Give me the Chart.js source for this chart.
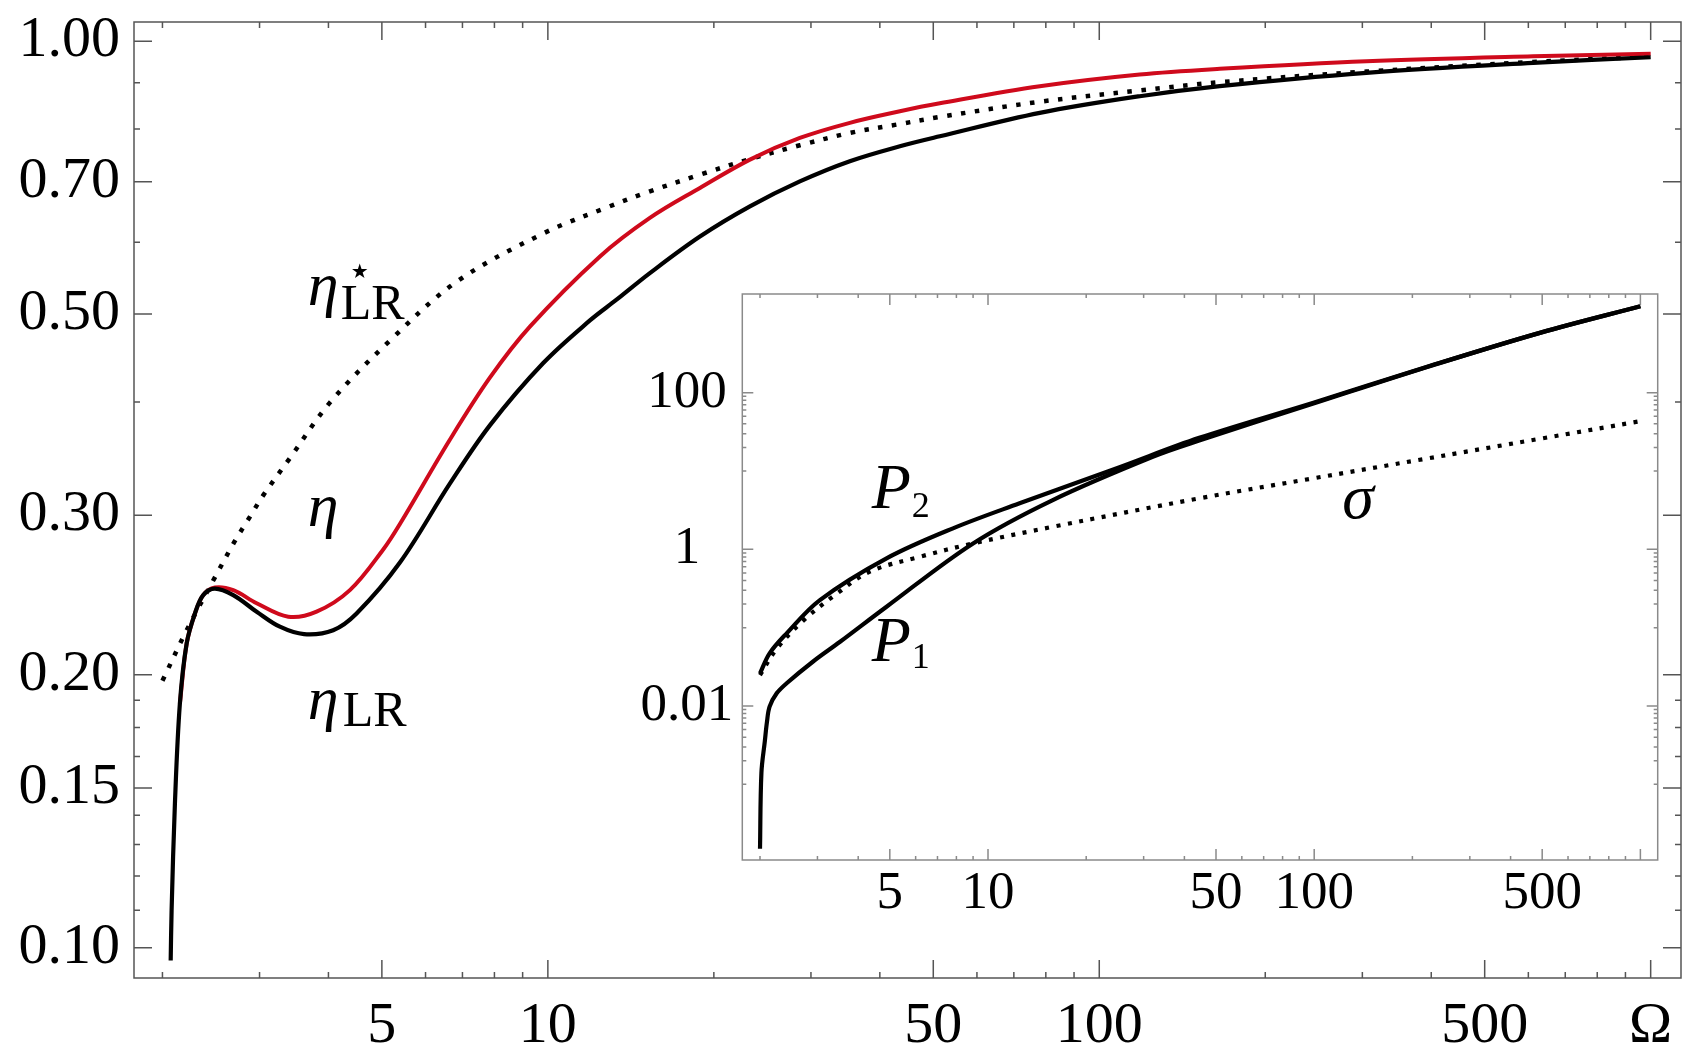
<!DOCTYPE html>
<html>
<head>
<meta charset="utf-8">
<script src="https://cdn.jsdelivr.net/npm/chart.js@4.4.1/dist/chart.umd.min.js"></script>
<style>
html,body{margin:0;padding:0;background:#fff;}
#wrap{position:relative;width:1704px;height:1064px;overflow:hidden;}
#wrap canvas{position:absolute;left:0;top:0;}
</style>
</head>
<body>
<div id="wrap">
<canvas id="mainChart" width="1704" height="1064"></canvas>
<canvas id="insetChart" width="1704" height="1064"></canvas>
</div>
<script>
// ---------------- main chart data (Ω on x, efficiency on y) ----------------
const omegaEtaLR = [2.07, 2.078, 2.107, 2.151, 2.213, 2.291, 2.371, 2.49, 2.688, 2.964, 3.266, 3.612, 4.08, 4.499, 5.391, 6.641, 7.849, 9.80, 11.92, 13.32, 15.31, 18.87, 23.25, 28.64, 35.29, 43.49, 51.38, 78.0, 118.4, 165.4, 305.1, 611.8, 1000];
const etaLR      = [0.0968, 0.110, 0.1443, 0.1859, 0.2166, 0.2338, 0.2449, 0.2490, 0.2449, 0.2348, 0.2260, 0.2218, 0.2240, 0.2337, 0.2660, 0.3250, 0.3769, 0.4413, 0.4920, 0.5186, 0.5549, 0.6089, 0.6574, 0.7004, 0.7373, 0.7658, 0.7854, 0.8336, 0.8696, 0.8923, 0.9228, 0.9465, 0.9601];

const omegaEta = [2.151, 2.213, 2.291, 2.371, 2.49, 2.688, 2.964, 3.382, 3.807, 4.375, 5.028, 5.391, 6.641, 7.849, 9.277, 12.43, 15.31, 18.87, 23.25, 28.64, 35.29, 43.49, 51.38, 78.0, 118.4, 165.4, 305.1, 611.8, 1000];
const eta      = [0.1859, 0.2166, 0.2338, 0.2449, 0.2497, 0.2480, 0.2399, 0.2318, 0.2348, 0.2480, 0.2750, 0.2934, 0.3634, 0.4254, 0.4843, 0.5788, 0.6383, 0.6888, 0.7403, 0.7821, 0.8128, 0.8369, 0.8540, 0.8919, 0.9189, 0.9322, 0.9504, 0.9625, 0.9685];

const omegaEtaStar = [2.0, 2.213, 2.49, 2.707, 2.883, 3.046, 3.405, 4.024, 5.169, 6.831, 9.80, 12.86, 15.31, 18.87, 23.25, 28.64, 35.29, 42.89, 51.38, 78.0, 118.4, 165.4, 305.1, 611.8, 1000];
const etaStar      = [0.1970, 0.2240, 0.2562, 0.2810, 0.2989, 0.3155, 0.3468, 0.3993, 0.4674, 0.5428, 0.6135, 0.6564, 0.6829, 0.7124, 0.7414, 0.7677, 0.7921, 0.8091, 0.8249, 0.8575, 0.8823, 0.9011, 0.9258, 0.9485, 0.9618];

// main axes ticks
const mainXTicks  = [5, 10, 50, 100, 500, 1000];
const mainXLabels = ['5', '10', '50', '100', '500', '\u03A9'];
const mainXMinor  = [2, 3, 4, 6, 7, 8, 9, 20, 30, 40, 60, 70, 80, 90, 200, 300, 400, 600, 700, 800, 900];
const mainYTicks  = [0.10, 0.15, 0.20, 0.30, 0.50, 0.70, 1.00];
const mainYLabels = ['0.10', '0.15', '0.20', '0.30', '0.50', '0.70', '1.00'];
const mainYMinor  = [0.11, 0.12, 0.13, 0.14, 0.1625, 0.175, 0.1875, 0.4, 0.6, 0.8, 0.9];

// ---------------- inset data ----------------
const omegaP1 = [2.0, 2.02, 2.07, 2.10, 2.14, 2.25, 2.414, 2.91, 3.52, 4.886, 9.0, 15.8, 32, 44.42, 98.9, 214.7, 494.8, 1000];
const p1      = [1.5e-4, 1.4e-3, 3.6e-3, 6.2e-3, 9.8e-3, 0.0145, 0.0195, 0.037, 0.066, 0.185, 1.19, 4.26, 15.2, 24.5, 72, 204, 585, 1270];

const omegaP2 = [2.0, 2.14, 2.414, 3.052, 4.886, 7.812, 12.5, 25.31, 44.42, 98.9, 214.7, 494.8, 1000];
const p2      = [0.0261, 0.047, 0.0846, 0.225, 0.767, 1.854, 3.87, 11.2, 26.5, 74, 205, 585, 1270];

const omegaSigma = [2.0, 2.249, 2.714, 3.434, 4.343, 6.18, 9.0, 15.8, 44.42, 98.9, 214.7, 494.8, 1000];
const sigma      = [0.0248, 0.0535, 0.123, 0.27, 0.52, 0.804, 1.19, 1.94, 4.48, 8.04, 14.1, 25.9, 43.3];

const insetXTicks  = [5, 10, 50, 100, 500, 1000];
const insetXLabels = ['5', '10', '50', '100', '500', ''];
const insetXMinor  = [2, 3, 4, 6, 7, 8, 9, 20, 30, 40, 60, 70, 80, 90, 200, 300, 400, 600, 700, 800, 900];
const insetYTicks  = [0.01, 1, 100];
const insetYLabels = ['0.01', '1', '100'];
const insetYMinor  = [0.001, 0.002, 0.003, 0.004, 0.005, 0.006, 0.007, 0.008, 0.009, 0.1, 0.2, 0.3, 0.4, 0.5, 0.6, 0.7, 0.8, 0.9, 10, 20, 30, 40, 50, 60, 70, 80, 90];

// ---------------- helpers ----------------
const SERIF = '"Liberation Serif", "DejaVu Serif", serif';
const pts = (xs, ys) => xs.map((x, i) => ({x: x, y: ys[i]}));
const TENSION = 0.35;

const frameTicks = {
  id: 'frameTicks',
  beforeDraw(chart, args, o) {
    const {ctx, chartArea: a} = chart;
    ctx.save();
    if (o.pageBg) { ctx.fillStyle = '#fff'; ctx.fillRect(0, 0, chart.width, chart.height); }
    if (o.areaBg) { ctx.fillStyle = '#fff'; ctx.fillRect(a.left, a.top, a.right - a.left, a.bottom - a.top); }
    ctx.restore();
  },
  afterDraw(chart, args, o) {
    const {ctx, chartArea: a, scales: {x, y}} = chart;
    ctx.save();
    ctx.strokeStyle = o.color;
    ctx.lineWidth = o.lineWidth;
    ctx.strokeRect(a.left, a.top, a.right - a.left, a.bottom - a.top);
    ctx.beginPath();
    const xt = (vals, len) => vals.forEach(v => {
      const p = x.getPixelForValue(v);
      if (p < a.left || p > a.right) return;
      ctx.moveTo(p, a.bottom); ctx.lineTo(p, a.bottom - len);
      ctx.moveTo(p, a.top); ctx.lineTo(p, a.top + len);
    });
    const yt = (vals, len) => vals.forEach(v => {
      const p = y.getPixelForValue(v);
      if (p < a.top || p > a.bottom) return;
      ctx.moveTo(a.left, p); ctx.lineTo(a.left + len, p);
      ctx.moveTo(a.right, p); ctx.lineTo(a.right - len, p);
    });
    xt(o.xMajor, o.majorLen); xt(o.xMinor, o.minorLen);
    yt(o.yMajor, o.majorLen); yt(o.yMinor, o.minorLen);
    ctx.stroke();
    ctx.restore();
  }
};

const curveLabels = {
  id: 'curveLabels',
  afterDraw(chart, args, o) {
    const {ctx, scales: {x, y}} = chart;
    ctx.save();
    ctx.fillStyle = '#000';
    ctx.textAlign = 'left';
    ctx.textBaseline = 'alphabetic';
    o.items.forEach(item => {
      const px = x.getPixelForValue(item.x), py = y.getPixelForValue(item.y);
      item.parts.forEach(p => {
        ctx.font = p.font;
        ctx.fillText(p.text, px + p.dx, py + p.dy);
      });
    });
    ctx.restore();
  }
};

const zeroPad = s => { s.paddingTop = 0; s.paddingBottom = 0; s.paddingLeft = 0; s.paddingRight = 0; };

// ---------------- main chart ----------------
new Chart(document.getElementById('mainChart'), {
  type: 'line',
  data: {
    datasets: [
      { label: '\u03B7_LR', data: pts(omegaEtaLR, etaLR), borderColor: '#000', borderWidth: 4.2,
        pointRadius: 0, tension: TENSION, fill: false },
      { label: '\u03B7', data: pts(omegaEta, eta), borderColor: '#cf0a1c', borderWidth: 4,
        pointRadius: 0, tension: TENSION, fill: false },
      { label: '\u03B7*_LR', data: pts(omegaEtaStar, etaStar), borderColor: '#000', borderWidth: 4.5,
        borderDash: [4.5, 9.5], borderCapStyle: 'butt',
        pointRadius: 0, tension: TENSION, fill: false }
    ]
  },
  options: {
    responsive: false, animation: false, devicePixelRatio: 1,
    layout: { padding: { left: 0, top: 22, right: 23, bottom: 0 } },
    plugins: {
      legend: { display: false }, tooltip: { enabled: false },
      frameTicks: { pageBg: true, color: '#555', lineWidth: 1.5, majorLen: 18, minorLen: 6,
        xMajor: mainXTicks, xMinor: mainXMinor, yMajor: mainYTicks, yMinor: mainYMinor },
      curveLabels: { items: [
        { x: 3.67, y: 0.5112, parts: [
          { text: '\u03B7', font: 'italic 62px ' + SERIF, dx: 0, dy: 0 },
          { text: '\u2605', font: '20px "DejaVu Sans", sans-serif', dx: 43, dy: -27 },
          { text: 'LR', font: '50px ' + SERIF, dx: 33, dy: 14 } ] },
        { x: 3.67, y: 0.2918, parts: [
          { text: '\u03B7', font: 'italic 62px ' + SERIF, dx: 0, dy: 0 } ] },
        { x: 3.67, y: 0.1789, parts: [
          { text: '\u03B7', font: 'italic 62px ' + SERIF, dx: 0, dy: 0 },
          { text: 'LR', font: '50px ' + SERIF, dx: 35, dy: 7 } ] }
      ] }
    },
    scales: {
      x: {
        type: 'logarithmic', position: 'bottom', min: 1.776, max: 1135,
        afterBuildTicks: s => { s.ticks = mainXTicks.map(v => ({ value: v })); },
        afterFit: s => { s.height = 86; zeroPad(s); },
        grid: { display: false, drawTicks: false }, border: { display: false },
        ticks: { autoSkip: false, maxRotation: 0, padding: 14, color: '#000',
          font: { family: SERIF, size: 58 },
          callback: (v, i) => mainXLabels[i] }
      },
      y: {
        type: 'logarithmic', position: 'left', min: 0.0926, max: 1.05,
        afterBuildTicks: s => { s.ticks = mainYTicks.map(v => ({ value: v })); },
        afterFit: s => { s.width = 134; zeroPad(s); },
        grid: { display: false, drawTicks: false }, border: { display: false },
        ticks: { autoSkip: false, padding: 14, color: '#000',
          font: { family: SERIF, size: 58 },
          callback: (v, i) => mainYLabels[i] }
      }
    }
  },
  plugins: [frameTicks, curveLabels]
});

// ---------------- inset chart ----------------
new Chart(document.getElementById('insetChart'), {
  type: 'line',
  data: {
    datasets: [
      { label: 'P2', data: pts(omegaP2, p2), borderColor: '#000', borderWidth: 4.2,
        pointRadius: 0, tension: TENSION, fill: false },
      { label: 'P1', data: pts(omegaP1, p1), borderColor: '#000', borderWidth: 4.2,
        pointRadius: 0, tension: TENSION, fill: false },
      { label: '\u03C3', data: pts(omegaSigma, sigma), borderColor: '#000', borderWidth: 4.2,
        borderDash: [4, 7.5], borderCapStyle: 'butt',
        pointRadius: 0, tension: TENSION, fill: false }
    ]
  },
  options: {
    responsive: false, animation: false, devicePixelRatio: 1,
    layout: { padding: { left: 622.3, top: 294, right: 46.3, bottom: 134 } },
    plugins: {
      legend: { display: false }, tooltip: { enabled: false },
      frameTicks: { areaBg: true, color: '#8a8a8a', lineWidth: 1.5, majorLen: 11, minorLen: 4,
        xMajor: insetXTicks, xMinor: insetXMinor, yMajor: insetYTicks, yMinor: insetYMinor },
      curveLabels: { items: [
        { x: 4.40, y: 3.37, parts: [
          { text: 'P', font: 'italic 64px ' + SERIF, dx: 0, dy: 0 },
          { text: '2', font: '36px ' + SERIF, dx: 40, dy: 9 } ] },
        { x: 4.40, y: 0.0371, parts: [
          { text: 'P', font: 'italic 64px ' + SERIF, dx: 0, dy: 0 },
          { text: '1', font: '36px ' + SERIF, dx: 40, dy: 7 } ] },
        { x: 121.9, y: 2.51, parts: [
          { text: '\u03C3', font: 'italic 64px ' + SERIF, dx: 0, dy: 0 } ] }
      ] }
    },
    scales: {
      x: {
        type: 'logarithmic', position: 'bottom', min: 1.765, max: 1130,
        afterBuildTicks: s => { s.ticks = insetXTicks.map(v => ({ value: v })); },
        afterFit: s => { s.height = 70; zeroPad(s); },
        grid: { display: false, drawTicks: false }, border: { display: false },
        ticks: { autoSkip: false, maxRotation: 0, padding: 2, color: '#000',
          font: { family: SERIF, size: 53 },
          callback: (v, i) => insetXLabels[i] }
      },
      y: {
        type: 'logarithmic', position: 'left', min: 1.08e-4, max: 1820,
        afterBuildTicks: s => { s.ticks = insetYTicks.map(v => ({ value: v })); },
        afterFit: s => { s.width = 120; zeroPad(s); },
        grid: { display: false, drawTicks: false }, border: { display: false },
        ticks: { autoSkip: false, padding: 9, color: '#000', crossAlign: 'center',
          font: { family: SERIF, size: 53 },
          callback: (v, i) => insetYLabels[i] }
      }
    }
  },
  plugins: [frameTicks, curveLabels]
});
</script>
</body>
</html>
